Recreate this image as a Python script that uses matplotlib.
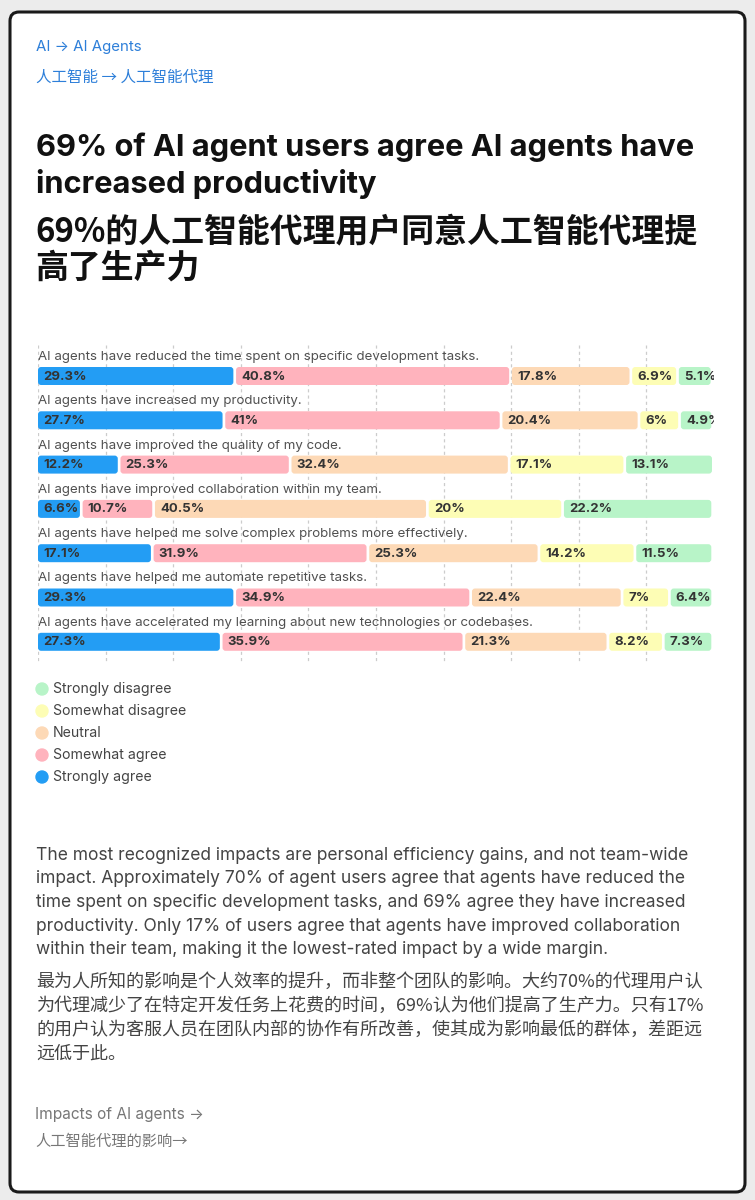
import matplotlib
matplotlib.use("Agg")
import matplotlib.pyplot as plt
from matplotlib.patches import FancyBboxPatch, Ellipse
import numpy as np

# ---- data ----
questions = [
    "AI agents have reduced the time spent on specific development tasks.",
    "AI agents have increased my productivity.",
    "AI agents have improved the quality of my code.",
    "AI agents have improved collaboration within my team.",
    "AI agents have helped me solve complex problems more effectively.",
    "AI agents have helped me automate repetitive tasks.",
    "AI agents have accelerated my learning about new technologies or codebases.",
]
strongly_agree = [29.3, 27.7, 12.2, 6.6, 17.1, 29.3, 27.3]
somewhat_agree = [40.8, 41.0, 25.3, 10.7, 31.9, 34.9, 35.9]
neutral = [17.8, 20.4, 32.4, 40.5, 25.3, 22.4, 21.3]
somewhat_disagree = [6.9, 6.0, 17.1, 20.0, 14.2, 7.0, 8.2]
strongly_disagree = [5.1, 4.9, 13.1, 22.2, 11.5, 6.4, 7.3]

series_names = ["Strongly agree", "Somewhat agree", "Neutral",
                "Somewhat disagree", "Strongly disagree"]
series_colors = ["#239df4", "#ffb3bd", "#fdd9b6", "#fdfdb5", "#b8f4c8"]

W, H = 755, 1200
LAT = ["Inter", "Noto Sans CJK SC", "DejaVu Sans"]
CJK = ["Noto Sans CJK SC", "DejaVu Sans"]

fig = plt.figure(figsize=(W / 100, H / 100), dpi=100)
fig.patch.set_facecolor("#ececec")


def fx(x):
    return x / W


def fy(y):
    return 1 - y / H


# card
card = FancyBboxPatch((fx(10), fy(1192)), fx(735), 1180 / H,
                      boxstyle="round,pad=0,rounding_size=0.012",
                      transform=fig.transFigure, facecolor="white",
                      edgecolor="#1a1a1a", linewidth=2.2, zorder=-5,
                      mutation_aspect=W / H)
fig.patches.append(card)


def txt(x, y, s, size, color="#222", weight="normal", family=LAT):
    fig.text(fx(x), fy(y), s, fontsize=size, color=color, fontweight=weight,
             family=family, va="center", ha="left")


# breadcrumbs
txt(36, 47, "AI → AI Agents", 10.8, "#2d7fd9")
txt(36, 77, "人工智能 → 人工智能代理", 11.2, "#2d7fd9", family=CJK)

# titles
txt(36, 147, "69% of AI agent users agree AI agents have", 22.2, "#111", "bold")
txt(36, 184, "increased productivity", 22.2, "#111", "bold")
txt(35, 232, "69%的人工智能代理用户同意人工智能代理提", 23.7, "#111", "bold", CJK)
txt(35, 268, "高了生产力", 23.7, "#111", "bold", CJK)

# ---- chart ----
ax_l, ax_r, ax_t, ax_b = 38, 714, 345, 662
ax = fig.add_axes([fx(ax_l), fy(ax_b), fx(ax_r - ax_l), (ax_b - ax_t) / H])
ax.set_xlim(0, 100)
ax.set_ylim(ax_b - ax_t, 0)
ax.axis("off")

px_per_x = (ax_r - ax_l) / 100
row_gap = 44.3
bar_h = 18
first_row = 31

for g in range(0, 100, 10):
    ax.plot([g, g], [0, ax_b - ax_t], color="#cccccc", lw=0.9,
            ls=(0, (2.5, 2.5)), zorder=0)

data = np.array([strongly_agree, somewhat_agree, neutral,
                 somewhat_disagree, strongly_disagree]).T

for i, q in enumerate(questions):
    yc = first_row + i * row_gap
    ax.text(0, yc - 19, q, fontsize=9.55, color="#505050", family=LAT,
            va="center", ha="left", zorder=3)
    left = 0
    for j, v in enumerate(data[i]):
        p = FancyBboxPatch((left, yc - bar_h / 2), v - 0.4, bar_h,
                           boxstyle="round,pad=0,rounding_size=0.45",
                           mutation_aspect=px_per_x, facecolor=series_colors[j],
                           edgecolor="none", zorder=2, clip_on=True)
        ax.add_patch(p)
        lab = f"{v:g}%"
        t = ax.text(left + 0.75, yc + 0.5, lab, fontsize=9.5, color="#333",
                    fontweight="bold", family=LAT, va="center", ha="left",
                    zorder=3)
        t.set_clip_on(True)
        left += v

# legend
legend_order = list(reversed(range(len(series_names))))
for k, j in enumerate(legend_order):
    y = 689 + k * 22
    fig.patches.append(Ellipse((fx(42), fy(y)), 12 / W, 12 / H,
                               transform=fig.transFigure,
                               color=series_colors[j]))
    txt(53, y, series_names[j], 10.2, "#444")

# paragraph
para_en = [
    "The most recognized impacts are personal efficiency gains, and not team-wide",
    "impact. Approximately 70% of agent users agree that agents have reduced the",
    "time spent on specific development tasks, and 69% agree they have increased",
    "productivity. Only 17% of users agree that agents have improved collaboration",
    "within their team, making it the lowest-rated impact by a wide margin.",
]
for k, line in enumerate(para_en):
    txt(36, 855 + k * 23.7, line, 12.55, "#444")

para_zh = [
    "最为人所知的影响是个人效率的提升，而非整个团队的影响。大约70%的代理用户认",
    "为代理减少了在特定开发任务上花费的时间，69%认为他们提高了生产力。只有17%",
    "的用户认为客服人员在团队内部的协作有所改善，使其成为影响最低的群体，差距远",
    "远低于此。",
]
for k, line in enumerate(para_zh):
    txt(36, 982 + k * 24, line, 13.0, "#444", family=CJK)

# footer links
txt(35, 1115, "Impacts of AI agents →", 11.1, "#777")
txt(35, 1141, "人工智能代理的影响→", 11.0, "#777", family=CJK)

fig.savefig("out.png", dpi=100)
